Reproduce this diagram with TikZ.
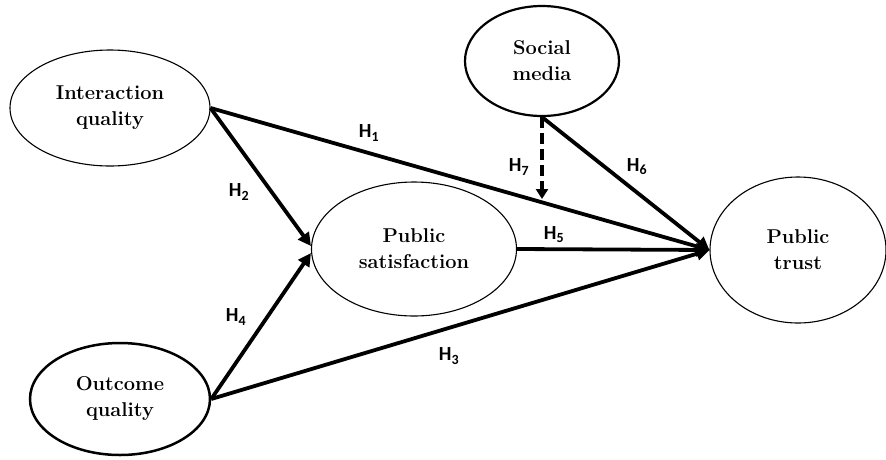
\documentclass[tikz,border=0pt]{standalone}
\usepackage{fontspec}
\newfontfamily\hfont{Carlito}
\usetikzlibrary{shapes.geometric,arrows.meta}
\tikzset{
  construct/.style={ellipse, draw, inner sep=0pt, align=center,
    font=\fontsize{20}{26}\selectfont\bfseries},
  path/.style={line width=3.8pt, -{Triangle[length=13pt,width=13pt]}},
  hlab/.style={font=\hfont\fontsize{20}{20}\selectfont\bfseries, inner sep=0pt}
}
\begin{document}
\begin{tikzpicture}[x=1pt,y=-1pt]
\useasboundingbox (0,0) rectangle (886,459);
\fill[white] (0,0) rectangle (886,459);
\node[construct, line width=1.1pt, minimum width=200pt, minimum height=116pt] (iq) at (110,108) {Interaction\\quality};
\node[construct, line width=2.2pt, minimum width=154pt, minimum height=110pt] (sm) at (542,61) {Social\\media};
\node[construct, line width=1.1pt, minimum width=205pt, minimum height=134pt] (ps) at (414,249) {Public\\satisfaction};
\node[construct, line width=1.1pt, minimum width=176pt, minimum height=146pt] (pt) at (798,250) {Public\\trust};
\node[construct, line width=2.5pt, minimum width=180pt, minimum height=112pt] (oq) at (120,399) {Outcome\\quality};
\coordinate (h7) at (542,199);
\draw[path] (iq.east) -- (pt.west);
\draw[path] (iq.east) -- ([yshift=3pt]ps.west);
\draw[path] (oq.east) -- ([yshift=-4pt]ps.west);
\draw[path] (oq.east) -- (pt.west);
\draw[path] (ps.east) -- (pt.west);
\draw[path] (sm.south) -- (pt.west);
\draw[line width=3.8pt, dash pattern=on 11pt off 5pt, -{Triangle[length=10pt,width=12pt]}] (sm.south) -- (h7);
\node[hlab] (l1) at (369,133) {H\textsubscript{1}};
\node[hlab] (l2) at (239,192) {H\textsubscript{2}};
\node[hlab] (l3) at (449,356) {H\textsubscript{3}};
\node[hlab] (l4) at (236,317) {H\textsubscript{4}};
\node[hlab] (l5) at (554,235) {H\textsubscript{5}};
\node[hlab] (l6) at (637,167) {H\textsubscript{6}};
\node[hlab] (l7) at (519,167) {H\textsubscript{7}};
\end{tikzpicture}
\end{document}
